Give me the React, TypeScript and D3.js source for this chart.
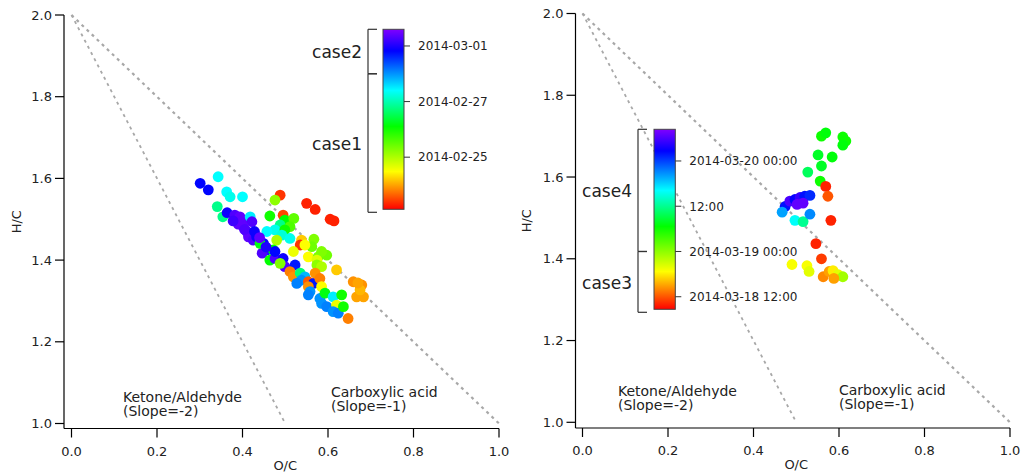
import React from "react";
import * as d3 from "d3";

// ---------- data ----------
// Left panel: O/C, H/C, time (days since 2014-02-23 00:00)
const LEFT_OC = [0.301,0.320,0.343,0.363,0.371,0.400,0.341,0.354,0.364,0.382,0.394,0.402,0.418,0.422,0.402,0.410,0.414,0.425,0.433,0.488,0.476,0.464,0.495,0.499,0.520,0.550,0.570,0.605,0.614,0.488,0.476,0.457,0.511,0.499,0.492,0.511,0.538,0.535,0.567,0.562,0.480,0.449,0.457,0.446,0.472,0.441,0.464,0.476,0.476,0.495,0.499,0.488,0.523,0.519,0.554,0.577,0.597,0.585,0.574,0.574,0.585,0.620,0.511,0.519,0.535,0.546,0.538,0.527,0.554,0.566,0.570,0.581,0.585,0.554,0.558,0.554,0.581,0.593,0.612,0.632,0.585,0.597,0.620,0.612,0.624,0.636,0.647,0.659,0.679,0.667,0.683,0.675,0.670,0.546,0.390,0.405,0.428,0.378,0.440,0.455];
const LEFT_HC = [1.588,1.572,1.604,1.567,1.555,1.555,1.531,1.506,1.516,1.510,1.506,1.498,1.506,1.494,1.482,1.470,1.457,1.449,1.457,1.559,1.547,1.508,1.510,1.498,1.502,1.539,1.524,1.500,1.496,1.486,1.474,1.470,1.482,1.474,1.461,1.453,1.449,1.437,1.451,1.433,1.449,1.441,1.425,1.417,1.425,1.441,1.400,1.404,1.421,1.404,1.384,1.392,1.388,1.421,1.408,1.408,1.412,1.421,1.400,1.388,1.384,1.376,1.372,1.359,1.368,1.359,1.351,1.343,1.347,1.343,1.368,1.355,1.335,1.335,1.323,1.315,1.306,1.319,1.310,1.315,1.294,1.286,1.290,1.274,1.270,1.286,1.257,1.347,1.339,1.310,1.310,1.327,1.344,1.437,1.488,1.475,1.470,1.496,1.455,1.432];
const LEFT_DAY = [5.8,5.8,4.4,4.4,4.3,4.4,3.8,3.8,5.9,6.3,6.4,6.4,4.5,6.3,6.4,6.3,6.4,6.3,5.9,0.4,2.2,3.0,0.5,3.1,2.5,0.3,0.3,0.3,0.3,3.8,4.3,4.4,2.6,3.0,4.2,4.3,1.2,0.4,2.3,2.4,2.0,5.8,5.7,6.3,3.1,3.2,3.1,6.3,5.8,5.9,6.3,2.3,5.7,1.6,1.5,2.3,2.4,2.3,1.7,2.2,2.0,1.2,0.8,0.9,3.7,4.8,5.0,5.1,0.6,5.7,0.9,0.8,1.5,0.9,5.0,5.1,5.0,3.2,4.5,3.0,5.0,5.1,1.6,5.0,5.1,3.0,0.8,0.9,0.9,1.0,1.0,1.1,1.0,1.5,6.4,6.3,5.9,6.2,6.4,6.0];

// Right panel: O/C, H/C, time (hours since 2014-03-18 00:00)
const RIGHT_OC = [0.559,0.569,0.609,0.616,0.609,0.551,0.584,0.559,0.527,0.556,0.569,0.474,0.485,0.497,0.509,0.520,0.532,0.502,0.516,0.467,0.497,0.516,0.532,0.574,0.581,0.546,0.559,0.490,0.525,0.530,0.563,0.577,0.586,0.598,0.609,0.588];
const RIGHT_HC = [1.700,1.708,1.698,1.688,1.678,1.654,1.649,1.627,1.612,1.590,1.577,1.528,1.541,1.545,1.550,1.553,1.555,1.533,1.536,1.514,1.494,1.491,1.509,1.553,1.494,1.437,1.400,1.386,1.383,1.369,1.356,1.369,1.371,1.361,1.356,1.352];
const RIGHT_HOUR = [30,31,30,30,31,32,31,32,34,30,10,50,54,51,53,50,49,55,55,44,40,36,45,12,10,10,11,19,19,20,14,15,18,20,23,15];

// Colorbar domains and ticks
const LEFT_TIME_DOMAIN = [0.125, 6.6]; // days since 2014-02-23
const LEFT_CB_TICKS = [6, 4, 2];
const LEFT_CB_LABELS = ["2014-03-01", "2014-02-27", "2014-02-25"];
const LEFT_CASES = [
  { name: "case2", from: 5, to: 6.6 },
  { name: "case1", from: 0.125, to: 5 },
];
const RIGHT_TIME_DOMAIN = [8.67, 56.4]; // hours since 2014-03-18
const RIGHT_CB_TICKS = [48, 36, 24, 12];
const RIGHT_CB_LABELS = ["2014-03-20 00:00", "12:00", "2014-03-19 00:00", "2014-03-18 12:00"];
const RIGHT_CASES = [
  { name: "case4", from: 24, to: 56.4 },
  { name: "case3", from: 8.67, to: 24 },
];

const X_TICKS = [0, 0.2, 0.4, 0.6, 0.8, 1.0];
const Y_TICKS = [1.0, 1.2, 1.4, 1.6, 1.8, 2.0];
const REF_LINES = [
  { pts: [[0, 2], [1, 1]], width: 2.2 },
  { pts: [[0, 2], [0.5, 1]], width: 1.8 },
];

const RAINBOW_STOPS = [0, 0.21, 0.46, 0.66, 0.88, 1];
const RAINBOW_COLORS = ["#ff0000", "#ffff00", "#00ff00", "#00ffff", "#0000ff", "#8000ff"];
const rainbow = d3.scaleLinear<string>().domain(RAINBOW_STOPS).range(RAINBOW_COLORS).clamp(true);

const FONT = "DejaVu Sans";

type PanelProps = {
  id: string;
  xr: [number, number];
  yr: [number, number];
  axisX: number;
  axisY: number;
  oc: number[]; hc: number[]; tm: number[];
  tdom: number[];
  cb: { x0: number; x1: number; y0: number; y1: number };
  cbTicks: number[]; cbLabels: string[];
  cases: { name: string; from: number; to: number }[];
  bracketX: number;
  hcLabelX: number;
  notes: { oc: number; hc: number; text: string }[];
};

function Panel(p: PanelProps) {
  const x = d3.scaleLinear().domain([0, 1]).range(p.xr);
  const y = d3.scaleLinear().domain([1, 2]).range(p.yr);
  const tY = d3.scaleLinear().domain(p.tdom).range([p.cb.y1, p.cb.y0]);
  const tF = d3.scaleLinear().domain(p.tdom).range([0, 1]);
  const line = d3.line<number[]>().x((d) => x(d[0])).y((d) => y(d[1]));
  const gid = "grad-" + p.id;
  const idx = d3.range(p.oc.length);
  const bx = p.bracketX;
  return (
    <g>
      <defs>
        <linearGradient id={gid} x1="0" y1="1" x2="0" y2="0">
          {RAINBOW_STOPS.map((s, i) => (
            <stop key={i} offset={s} stopColor={RAINBOW_COLORS[i]} />
          ))}
        </linearGradient>
      </defs>
      {REF_LINES.map((l, i) => (
        <path key={i} d={line(l.pts) || ""} fill="none" stroke="#a8a8a8" strokeWidth={l.width} strokeDasharray="3 4" />
      ))}
      {idx.map((i) => (
        <circle key={i} cx={x(p.oc[i])} cy={y(p.hc[i])} r={5.4} fill={rainbow(tF(p.tm[i]))} />
      ))}
      <line x1={p.axisX} x2={p.axisX} y1={y(2)} y2={p.axisY} stroke="#000" strokeWidth={1.2} />
      <line x1={p.axisX} x2={x(1)} y1={p.axisY} y2={p.axisY} stroke="#000" strokeWidth={1.2} />
      {Y_TICKS.map((t) => (
        <g key={t}>
          <line x1={p.axisX - 9} x2={p.axisX} y1={y(t)} y2={y(t)} stroke="#000" strokeWidth={1.2} />
          <text x={p.axisX - 12} y={y(t)} dy="0.36em" textAnchor="end" fontFamily={FONT} fontSize={13} fill="#222">{d3.format(".1f")(t)}</text>
        </g>
      ))}
      {X_TICKS.map((t) => (
        <g key={t}>
          <line x1={x(t)} x2={x(t)} y1={p.axisY} y2={p.axisY + 9} stroke="#000" strokeWidth={1.2} />
          <text x={x(t)} y={p.axisY + 27} textAnchor="middle" fontFamily={FONT} fontSize={13} fill="#222">{d3.format(".1f")(t)}</text>
        </g>
      ))}
      <text x={(p.xr[0] + p.xr[1]) / 2} y={p.axisY + 41} textAnchor="middle" fontFamily={FONT} fontSize={13} fill="#222">O/C</text>
      <text transform={`translate(${p.hcLabelX},${(y(2) + p.axisY) / 2}) rotate(-90)`} textAnchor="middle" fontFamily={FONT} fontSize={13} fill="#222">H/C</text>
      {p.notes.map((n, i) => (
        <text key={i} x={x(n.oc)} y={y(n.hc)} fontFamily={FONT} fontSize={14} fill="#222">{n.text}</text>
      ))}
      <rect x={p.cb.x0} y={p.cb.y0} width={p.cb.x1 - p.cb.x0} height={p.cb.y1 - p.cb.y0} fill={`url(#${gid})`} stroke="#444" strokeWidth={1} />
      {p.cbTicks.map((t, i) => (
        <g key={t}>
          <line x1={p.cb.x1} x2={p.cb.x1 + 6} y1={tY(t)} y2={tY(t)} stroke="#333" strokeWidth={1} />
          <text x={p.cb.x1 + 14} y={tY(t)} dy="0.36em" fontFamily={FONT} fontSize={12} fill="#222">{p.cbLabels[i]}</text>
        </g>
      ))}
      {p.cases.map((c) => {
        const top = c.to >= p.tdom[1] ? p.cb.y0 : tY(c.to);
        const bot = c.from <= p.tdom[0] ? p.cb.y1 + 3 : tY(c.from);
        return (
          <g key={c.name}>
            <line x1={bx} x2={bx} y1={top} y2={bot} stroke="#333" strokeWidth={1.2} />
            <line x1={bx} x2={bx + 9} y1={top} y2={top} stroke="#333" strokeWidth={1.2} />
            <line x1={bx} x2={bx + 9} y1={bot} y2={bot} stroke="#333" strokeWidth={1.2} />
            <text x={bx - 6} y={(top + bot) / 2} dy="0.4em" textAnchor="end" fontFamily={FONT} fontSize={17} fill="#222">{c.name}</text>
          </g>
        );
      })}
    </g>
  );
}

export default function App() {
  return (
    <svg width={1024} height={475} style={{ position: "absolute", left: 0, top: 0, display: "block", background: "#fff" }}>
      <Panel
        id="l"
        xr={[71.5, 499]}
        yr={[423.5, 15]}
        axisX={64}
        axisY={428.5}
        oc={LEFT_OC} hc={LEFT_HC} tm={LEFT_DAY}
        tdom={LEFT_TIME_DOMAIN}
        cb={{ x0: 383, x1: 404, y0: 29.3, y1: 209.3 }}
        cbTicks={LEFT_CB_TICKS} cbLabels={LEFT_CB_LABELS}
        cases={LEFT_CASES}
        bracketX={368}
        hcLabelX={21}
        notes={[
          { oc: 0.1205, hc: 1.0526, text: "Ketone/Aldehyde" },
          { oc: 0.1205, hc: 1.0184, text: "(Slope=-2)" },
          { oc: 0.607, hc: 1.0649, text: "Carboxylic acid" },
          { oc: 0.607, hc: 1.0306, text: "(Slope=-1)" },
        ]}
      />
      <Panel
        id="r"
        xr={[582.5, 1010]}
        yr={[422.3, 13.5]}
        axisX={575.5}
        axisY={428}
        oc={RIGHT_OC} hc={RIGHT_HC} tm={RIGHT_HOUR}
        tdom={RIGHT_TIME_DOMAIN}
        cb={{ x0: 654, x1: 675.3, y0: 129.3, y1: 309.3 }}
        cbTicks={RIGHT_CB_TICKS} cbLabels={RIGHT_CB_LABELS}
        cases={RIGHT_CASES}
        bracketX={638}
        hcLabelX={531}
        notes={[
          { oc: 0.083, hc: 1.0643, text: "Ketone/Aldehyde" },
          { oc: 0.083, hc: 1.0301, text: "(Slope=-2)" },
          { oc: 0.6, hc: 1.0667, text: "Carboxylic acid" },
          { oc: 0.6, hc: 1.0325, text: "(Slope=-1)" },
        ]}
      />
    </svg>
  );
}
